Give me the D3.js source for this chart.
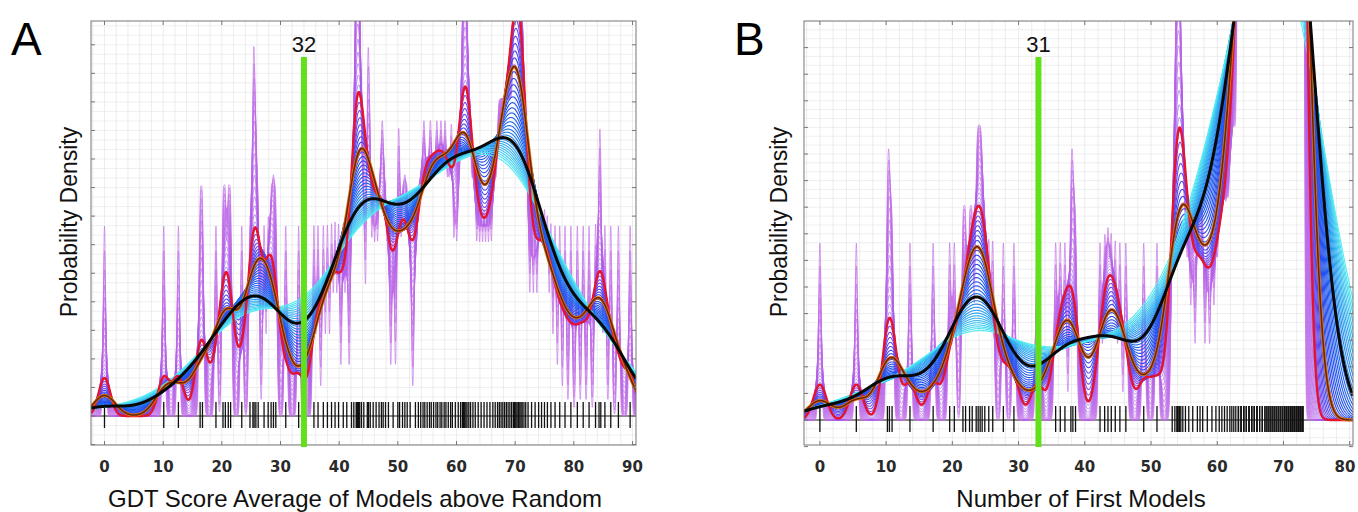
<!DOCTYPE html>
<html>
<head>
<meta charset="utf-8">
<script src="https://cdn.jsdelivr.net/npm/d3@7"></script>
<style>
  body { margin: 0; background: #fff; }
  svg { display: block; }
</style>
</head>
<body>
<svg id="chart" width="1358" height="512"></svg>
<script>
// rug values (GDT score average)
var rugA = [0.0, 10.1, 12.6, 16.3, 16.7, 19.0, 20.2, 20.6, 21.1, 21.5, 23.4, 24.8, 25.3, 25.5, 25.8, 26.2,
  27.2, 27.9, 28.4, 28.8, 29.2, 30.9, 33.1,
  35.7, 36.4, 37.3, 38.0, 38.7, 39.3, 39.9, 40.7, 41.3, 42.1,
  42.5, 42.9, 43.0, 43.1, 43.3, 43.5, 43.8, 44.2,
  44.8, 45.0, 45.3, 45.8, 46.3, 46.8, 47.2, 47.5, 47.9, 48.4,
  49.2, 50.0, 50.3, 50.8, 51.2, 51.6, 52.1,
  53.0, 53.5, 53.9, 54.3, 54.6, 55.0, 55.4, 55.7, 56.1, 56.5, 56.8, 57.2, 57.5, 57.9, 58.2, 58.6, 59.0, 59.3, 59.8,
  60.3, 60.7, 61.0, 61.2, 61.4, 61.6, 61.8, 62.1, 62.4, 62.8,
  63.2, 63.7, 64.2, 64.7, 65.2, 65.7, 66.2, 66.6, 67.0, 67.3, 67.6, 67.9, 68.2, 68.5, 68.8,
  69.1, 69.4, 69.7, 69.9, 70.1, 70.3, 70.5, 70.6, 70.8, 71.0, 71.2, 71.5, 71.8, 72.2,
  72.8, 73.4, 74.0, 74.5, 75.0, 75.5, 76.1, 76.8, 77.6, 78.5, 79.5, 80.6, 81.6, 82.6,
  83.7, 84.3, 84.6, 85.3, 86.3, 87.6, 89.6];

// rug values (number of first models), tied values repeated
var rugB = [0.0, 5.5, 10.2, 10.5, 10.9, 13.6, 17.1, 19.6, 20.3,
  21.6, 22.0, 22.6, 23.0, 23.6, 23.9, 24.2, 24.5, 24.9, 25.5, 26.1, 27.7, 29.3, 32.8,
  35.6, 36.3, 37.0, 37.9, 38.2, 38.6, 42.3, 43.0, 43.5, 44.0, 44.6, 45.3, 46.2, 48.9, 50.9,
  53.2, 53.6, 53.9, 54.0, 54.1, 54.3, 54.5, 54.8, 55.2, 55.7, 56.3, 57.0, 57.4, 57.8, 58.5,
  59.2, 59.8, 60.3, 60.7, 61.1, 61.5, 61.9, 62.2, 62.5, 62.8,
  63.2, 63.2, 63.2, 63.6, 63.6, 63.6, 64.0, 64.0, 64.0, 64.4, 64.4, 64.4,
  64.8, 64.8, 64.8, 65.2, 65.2, 65.2, 65.6, 65.6, 65.6, 66.0, 66.0, 66.0,
  66.4, 66.4, 66.8, 66.8, 67.2, 67.2, 67.5, 67.5, 67.8, 67.8, 68.1, 68.1, 68.4, 68.4, 68.7, 68.7,
  69.0, 69.0, 69.3, 69.3, 69.6, 69.6, 69.9, 69.9,
  70.2, 70.2, 70.2, 70.5, 70.5, 70.5, 70.8, 70.8, 70.8,
  71.1, 71.1, 71.1, 71.1, 71.4, 71.4, 71.4, 71.4, 71.7, 71.7, 71.7, 71.7,
  72.0, 72.0, 72.0, 72.0, 72.0, 72.3, 72.3, 72.3, 72.3, 72.3,
  72.6, 72.6, 72.6, 72.6, 72.6, 72.9, 72.9, 72.9, 72.9, 72.9];

// kernel bandwidths of the thin curve family (purple -> blue -> cyan)
var bandwidths = [0.2, 0.23, 0.26, 0.29, 0.32, 0.35, 0.39, 0.43, 0.47, 0.52, 0.57, 0.62, 0.68, 0.74, 0.8,
  0.87, 0.94, 1.02, 1.1, 1.19, 1.28, 1.38, 1.48, 1.59, 1.7, 1.82, 1.94, 2.07, 2.2, 2.34, 2.48, 2.63,
  2.78, 2.94, 3.1, 3.27, 3.44, 3.62, 3.8, 3.99, 4.18, 4.38, 4.58, 4.79, 5.0, 5.22, 5.45, 5.7, 5.95, 6.2, 6.5];
var redBw = 1.0;
var brownBw = 1.85;
var blackBwA = 4.2;
var blackBwB = 3.6;

var xTicksA = [0, 10, 20, 30, 40, 50, 60, 70, 80, 90];
var xTicksB = [0, 10, 20, 30, 40, 50, 60, 70, 80];
var cutA = 34, cutLabelA = "32";
var cutB = 33, cutLabelB = "31";

var svg = d3.select("#chart");

var panels = [
  { id: "a", letter: "A", letterX: 11, rug: rugA, blackBw: blackBwA, xTicks: xTicksA, xDomain: [-2.3, 90.6], yTop: 4.15,
    left: 91, right: 636, top: 21, bottom: 445, base: 416, cut: cutA, cutLabel: cutLabelA,
    xTitle: "GDT Score Average of Models above Random", xTitleX: 355, yTitleX: 77 },
  { id: "b", letter: "B", letterX: 734, rug: rugB, blackBw: blackBwB, xTicks: xTicksB, xDomain: [-2.4, 80.5], yTop: 4.5,
    left: 804, right: 1353, top: 21, bottom: 445, base: 420, cut: cutB, cutLabel: cutLabelB,
    xTitle: "Number of First Models", xTitleX: 1081, yTitleX: 787 }
];

var colorByBw = d3.scaleLinear()
  .domain([0.2, 0.7, 1.15, 1.8, 3.0, 4.4, 6.5])
  .range(["#c474e8", "#b05ae8", "#7c4cf0", "#2e44ec", "#1c58ee", "#2a9cf0", "#52ecf2"])
  .interpolate(d3.interpolateRgb);

function kde(data, h, xs) {
  var c = 1 / (h * Math.sqrt(2 * Math.PI));
  return xs.map(function(x) {
    var s = 0;
    for (var i = 0; i < data.length; i++) {
      var u = (x - data[i]) / h;
      s += Math.exp(-0.5 * u * u);
    }
    return [x, s * c];
  });
}

panels.forEach(function(p) {
  var x = d3.scaleLinear().domain(p.xDomain).range([p.left, p.right]);
  var y = d3.scaleLinear().domain([0, p.yTop]).range([p.base, p.top]);

  var g = svg.append("g");

  // clip for the plot box
  svg.append("clipPath").attr("id", "clip-" + p.id)
    .append("rect")
    .attr("x", p.left).attr("y", p.top)
    .attr("width", p.right - p.left).attr("height", p.bottom - p.top);

  // light grid
  var grid = g.append("g").attr("clip-path", "url(#clip-" + p.id + ")");
  grid.selectAll(".gv").data(d3.range(-2, p.xDomain[1], 2))
    .join("line")
    .attr("x1", d => x(d)).attr("x2", d => x(d))
    .attr("y1", p.top).attr("y2", p.bottom)
    .attr("stroke", "#e4e4e4").attr("stroke-width", 0.7);
  grid.selectAll(".gh").data(d3.range(-0.3, p.yTop + 0.1, 0.1))
    .join("line")
    .attr("x1", p.left).attr("x2", p.right)
    .attr("y1", d => y(d)).attr("y2", d => y(d))
    .attr("stroke", "#e8e8e8").attr("stroke-width", 0.7);

  // rug
  var rug = g.append("g");
  rug.append("line")
    .attr("x1", p.left).attr("x2", p.right)
    .attr("y1", p.base).attr("y2", p.base)
    .attr("stroke", "#222").attr("stroke-width", 1.2);
  rug.selectAll(".tick").data(p.rug)
    .join("line")
    .attr("x1", d => x(d)).attr("x2", d => x(d))
    .attr("y1", p.base - 14).attr("y2", p.base + 12)
    .attr("stroke", "#111").attr("stroke-width", 1.3);

  // density curves
  var xs = d3.range(p.xDomain[0], p.xDomain[1] + 0.05, 0.05);
  var line = d3.line().x(d => x(d[0])).y(d => y(d[1]));
  var curves = g.append("g").attr("clip-path", "url(#clip-" + p.id + ")");

  bandwidths.forEach(function(h) {
    curves.append("path")
      .attr("d", line(kde(p.rug, h, xs)))
      .attr("fill", "none")
      .attr("stroke", colorByBw(h))
      .attr("stroke-width", h < 1 ? 0.8 : 1.1)
      .attr("stroke-opacity", h < 1 ? 0.85 : 1);
  });

  curves.append("path")
    .attr("d", line(kde(p.rug, redBw, xs)))
    .attr("fill", "none").attr("stroke", "#e5142e").attr("stroke-width", 2.4);

  var brown = line(kde(p.rug, brownBw, xs));
  curves.append("path").attr("d", brown)
    .attr("fill", "none").attr("stroke", "#e8740e").attr("stroke-width", 3.2);
  curves.append("path").attr("d", brown)
    .attr("fill", "none").attr("stroke", "#6a2608").attr("stroke-width", 1.6);

  curves.append("path")
    .attr("d", line(kde(p.rug, p.blackBw, xs)))
    .attr("fill", "none").attr("stroke", "#080808").attr("stroke-width", 3);

  // frame
  g.append("rect")
    .attr("x", p.left).attr("y", p.top)
    .attr("width", p.right - p.left).attr("height", p.bottom - p.top)
    .attr("fill", "none").attr("stroke", "#777").attr("stroke-width", 1);

  // y ticks on both sides, no labels
  var yt = d3.range(-0.3, p.yTop, 0.3);
  g.selectAll(".ytl").data(yt).join("line")
    .attr("x1", p.left).attr("x2", p.left + 4)
    .attr("y1", d => y(d)).attr("y2", d => y(d))
    .attr("stroke", "#777");
  g.selectAll(".ytr").data(yt).join("line")
    .attr("x1", p.right - 4).attr("x2", p.right)
    .attr("y1", d => y(d)).attr("y2", d => y(d))
    .attr("stroke", "#777");

  // x ticks and labels
  g.selectAll(".xtb").data(p.xTicks).join("line")
    .attr("x1", d => x(d)).attr("x2", d => x(d))
    .attr("y1", p.bottom).attr("y2", p.bottom - 4)
    .attr("stroke", "#777");
  g.selectAll(".xtt").data(p.xTicks).join("line")
    .attr("x1", d => x(d)).attr("x2", d => x(d))
    .attr("y1", p.top).attr("y2", p.top + 4)
    .attr("stroke", "#777");
  g.selectAll(".xl").data(p.xTicks).join("text")
    .attr("x", d => Math.min(x(d), 1345))
    .attr("y", 472)
    .attr("text-anchor", "middle")
    .attr("font-family", "DejaVu Sans, sans-serif")
    .attr("font-weight", "bold")
    .attr("font-size", 15)
    .attr("fill", "#2a2a2a")
    .text(d => d);

  // cutoff line
  g.append("line")
    .attr("x1", x(p.cut)).attr("x2", x(p.cut))
    .attr("y1", 57).attr("y2", 447)
    .attr("stroke", "#62e01c").attr("stroke-width", 6);
  g.append("text")
    .attr("x", x(p.cut)).attr("y", 52)
    .attr("text-anchor", "middle")
    .attr("font-family", "Liberation Sans, Arial, sans-serif")
    .attr("font-size", 22)
    .attr("fill", "#111")
    .text(p.cutLabel);

  // titles
  g.append("text")
    .attr("x", p.xTitleX).attr("y", 507)
    .attr("text-anchor", "middle")
    .attr("font-family", "Liberation Sans, Arial, sans-serif")
    .attr("font-size", 24)
    .attr("fill", "#111")
    .text(p.xTitle);
  g.append("text")
    .attr("transform", "translate(" + p.yTitleX + ",222) rotate(-90)")
    .attr("text-anchor", "middle")
    .attr("font-family", "Liberation Sans, Arial, sans-serif")
    .attr("font-size", 23)
    .attr("fill", "#111")
    .text("Probability Density");
  g.append("text")
    .attr("x", p.letterX).attr("y", 55)
    .attr("font-family", "Liberation Sans, Arial, sans-serif")
    .attr("font-size", 46)
    .attr("fill", "#000")
    .text(p.letter);
});
</script>
</body>
</html>
